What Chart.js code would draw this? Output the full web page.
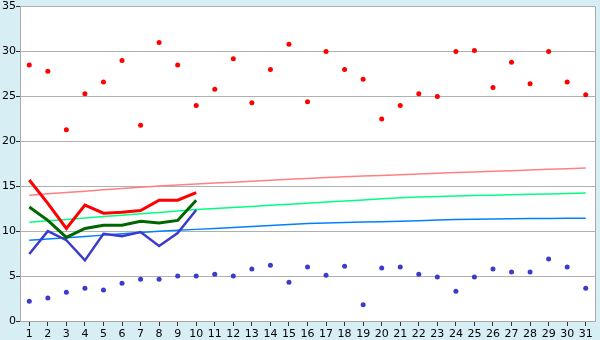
<!DOCTYPE html>
<html>
<head>
<meta charset="utf-8">
<script src="https://cdn.jsdelivr.net/npm/chart.js@4"></script>
<style>
  html, body { margin: 0; padding: 0; background: #d8eef5; }
  #wrap { width: 600px; height: 340px; }
</style>
</head>
<body>
<div id="wrap"><canvas id="myChart" width="600" height="340"></canvas></div>
<script>
var days = ['1','2','3','4','5','6','7','8','9','10','11','12','13','14','15','16','17','18','19','20','21','22','23','24','25','26','27','28','29','30','31'];

var redPoints = [28.5, 27.8, 21.3, 25.3, 26.6, 29.0, 21.8, 31.0, 28.5, 24.0, 25.8, 29.2, 24.3, 28.0, 30.8, 24.4, 30.0, 28.0, 26.9, 22.5, 24.0, 25.3, 25.0, 30.0, 30.1, 26.0, 28.8, 26.4, 30.0, 26.6, 25.2];
var bluePoints = [2.2, 2.55, 3.2, 3.65, 3.45, 4.2, 4.65, 4.65, 5.0, 5.0, 5.2, 5.0, 5.8, 6.2, 4.3, 6.0, 5.1, 6.1, 1.8, 5.9, 6.0, 5.2, 4.9, 3.3, 4.9, 5.8, 5.45, 5.45, 6.9, 6.0, 3.65];

var redLine = [15.7, 13.1, 10.3, 12.9, 12.0, 12.1, 12.3, 13.45, 13.45, 14.3];
var greenLine = [12.7, 11.2, 9.3, 10.3, 10.65, 10.65, 11.1, 10.9, 11.2, 13.45];
var blueLine = [7.45, 10.0, 9.0, 6.75, 9.7, 9.45, 9.9, 8.35, 9.8, 12.35];

var pinkTrend = [14.0, 14.17, 14.31, 14.45, 14.6, 14.74, 14.88, 15.02, 15.14, 15.24, 15.35, 15.45, 15.56, 15.66, 15.77, 15.87, 15.97, 16.05, 16.13, 16.21, 16.29, 16.37, 16.45, 16.53, 16.6, 16.67, 16.74, 16.81, 16.88, 16.96, 17.03];
var greenTrend = [11.0, 11.16, 11.31, 11.47, 11.62, 11.78, 11.93, 12.09, 12.25, 12.41, 12.52, 12.64, 12.76, 12.88, 13.0, 13.12, 13.24, 13.36, 13.48, 13.6, 13.73, 13.8, 13.86, 13.92, 13.97, 14.01, 14.06, 14.1, 14.15, 14.2, 14.24];
var blueTrend = [9.0, 9.14, 9.28, 9.42, 9.56, 9.7, 9.85, 9.99, 10.1, 10.2, 10.3, 10.42, 10.53, 10.64, 10.75, 10.86, 10.92, 10.97, 11.01, 11.06, 11.1, 11.17, 11.24, 11.31, 11.34, 11.36, 11.38, 11.4, 11.41, 11.43, 11.44];

var yTicks = [0, 5, 10, 15, 20, 25, 30, 35];

// white plot area + grey frame
var plotArea = {
    id: 'plotArea',
    beforeDraw: function(chart) {
        var a = chart.chartArea, c = chart.ctx;
        c.save();
        c.fillStyle = '#ffffff';
        c.fillRect(a.left, a.top, a.right - a.left, a.bottom - a.top);
        c.restore();
    },
    afterDraw: function(chart) {
        var a = chart.chartArea, c = chart.ctx;
        c.save();
        c.strokeStyle = '#a8a8a8';
        c.lineWidth = 1;
        c.beginPath();
        c.moveTo(a.right + 0.5, a.top);
        c.lineTo(a.right + 0.5, a.bottom);
        c.stroke();
        c.restore();
    }
};

function pts(data, color) {
    return { data: data, showLine: false, pointStyle: 'circle', pointRadius: 2.5, pointHoverRadius: 2.5,
             pointBackgroundColor: color, pointBorderWidth: 0, borderColor: color, order: 0 };
}
function line(data, color, w, ord) {
    return { data: data, borderColor: color, borderWidth: w, pointRadius: 0, tension: 0, fill: false, order: ord };
}

var ctx = document.getElementById('myChart').getContext('2d');
var myChart = new Chart(ctx, {
    type: 'line',
    data: {
        labels: days,
        datasets: [
            pts(redPoints, '#ff0000'),
            pts(bluePoints, '#3c3ccc'),
            line(redLine, '#ff0000', 3, 1),
            line(greenLine, '#006600', 3, 1),
            line(blueLine, '#3c3ccc', 2.5, 1),
            line(pinkTrend, '#ff8080', 1.5, 2),
            line(greenTrend, '#00ff80', 1.5, 2),
            line(blueTrend, '#0080ff', 1.5, 2)
        ]
    },
    options: {
        responsive: false,
        animation: false,
        layout: { padding: { top: 5, right: 5, left: 0, bottom: 0 } },
        plugins: { legend: { display: false }, tooltip: { enabled: false } },
        scales: {
            x: {
                offset: true,
                grid: { offset: false, drawOnChartArea: false, drawTicks: true, tickLength: 5, color: '#333333' },
                border: { color: '#a8a8a8' },
                ticks: { color: '#000', font: { family: 'DejaVu Sans', size: 11 }, padding: 2, maxRotation: 0, autoSkip: false },
                afterFit: function(s) { s.height = 19; }
            },
            y: {
                min: 0,
                max: 35,
                afterBuildTicks: function(s) { s.ticks = yTicks.map(function(v) { return { value: v }; }); },
                grid: { color: '#b0b0b0', tickLength: 4, tickColor: '#333333' },
                border: { color: '#a8a8a8' },
                ticks: { color: '#000', font: { family: 'DejaVu Sans', size: 11 }, padding: 0 },
                afterFit: function(s) { s.width = 20; }
            }
        }
    },
    plugins: [plotArea]
});
</script>
</body>
</html>
